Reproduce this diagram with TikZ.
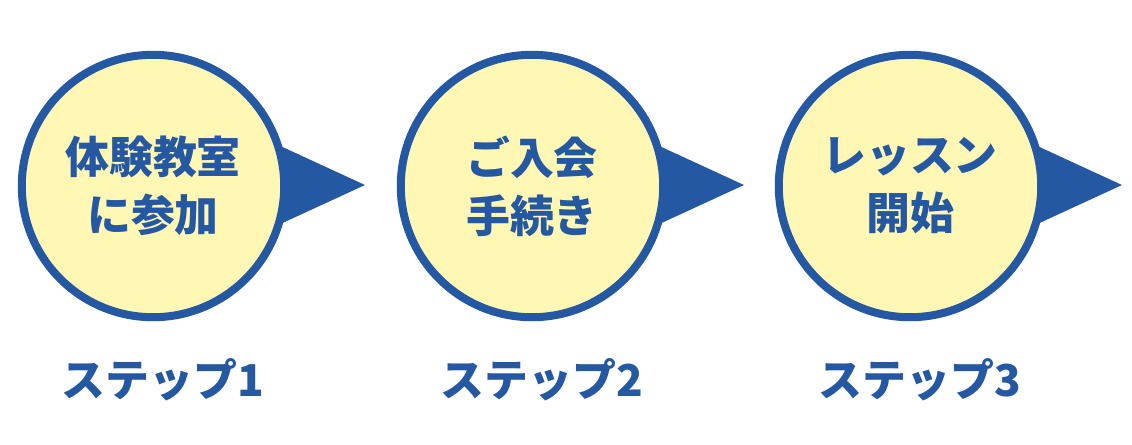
\documentclass[tikz,border=0pt]{standalone}
\usepackage{fontspec}
\setmainfont{Noto Sans CJK JP Black}
\usetikzlibrary{positioning}
\definecolor{stepblue}{HTML}{2458A3}
\definecolor{stepyellow}{HTML}{FFF7B3}
\tikzset{
  bubble/.style={circle,draw=stepblue,fill=stepyellow,line width=0.16cm,
    minimum size=5.25cm,inner sep=0pt,text=stepblue,font=\fontsize{25}{33}\selectfont,align=center},
  steplabel/.style={text=stepblue,font=\fontsize{25}{28}\selectfont},
  pointer/.style={fill=stepblue}
}
\begin{document}
\begin{tikzpicture}[x=0.02cm,y=-0.02cm]
\useasboundingbox (0,0) rectangle (1132,444);
\foreach \i/\cx/\txt/\lab in {1/153/{体験教室\\に参加}/ステップ1,2/532/{ご入会\\手続き}/ステップ2,3/910/{レッスン\\開始}/ステップ3}{
  \fill[pointer] (\cx+110,138) -- (\cx+212,185) -- (\cx+110,232) -- cycle;
  \node[bubble] (b\i) at (\cx,186) {\txt};
  \node[steplabel] (s\i) at (\cx+10,380) {\lab};
}
\end{tikzpicture}
\end{document}
